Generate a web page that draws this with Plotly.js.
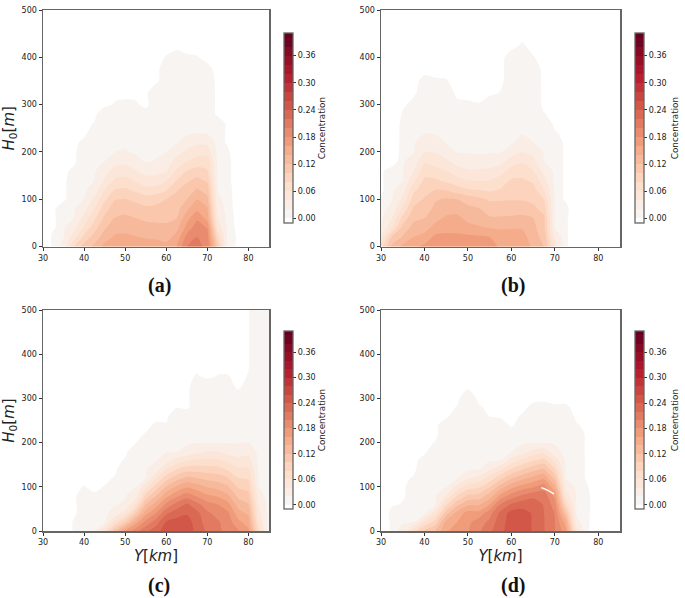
<!DOCTYPE html>
<html><head><meta charset="utf-8">
<script src="https://cdn.plot.ly/plotly-3.0.1.min.js"></script>
<style>html,body{margin:0;padding:0;background:#fff}</style></head>
<body><div id="chart" style="width:685px;height:598px"></div>
<script>
// Grid: distance Y [km] and height H0 [m]
const distanceKm=[30,32.5,35,37.5,40,42.5,45,47.5,50,52.5,55,57.5,60,62.5,65,67.5,70,72.5,75,77.5,80,82.5,85];
const heightM=[0,20,40,60,80,100,120,140,160,180,200,220,240,260,280,300,325,350,375,400,425,450,500];
const tickValues=[0,0.06,0.12,0.18,0.24,0.30,0.36];
const tickLabels=['0.00','0.06','0.12','0.18','0.24','0.30','0.36'];
const panelLabels=['(a)','(b)','(c)','(d)'];
// Concentration x1000; one list per Y, from H0=0 upward. A list that stops early is outside the plume above that point.
const concA=[
[-40,-40],[8,12],[28,19,18,17,15],[80,50,33,20,18,16,14,12,5],
[108,86,64,47,33,20,18,17,16,15,14,5],
[125,108,92,76,60,44,26,20,18,16,15,14,12,1],
[146,130,117,104,92,76,60,43,31,20,18,16,15,14,15],
[155,143,132,121,110,99,81,62,47,33,20,18,16,14,12,2],
[157,144,134,124,113,101,83,67,50,35,21,18,16,14,12,4],
[153,141,130,120,108,96,75,58,41,27,18,16,15,14,12,3],
[150,138,127,116,104,90,66,48,32,18,16,15,14,12,8],
[148,137,125,115,105,93,68,48,33,21,18,17,16,15,14,13,19],
[147,132,124,116,108,100,78,58,38,29,20,18,17,16,15,14,13,12,10,1],
[160,146,134,119,112,106,98,80,62,48,32,18,17,16,15,14,13,12,11,8],
[200,187,166,153,136,120,110,96,80,60,44,29,18,17,16,15,14,13,12,2],
[205,200,192,176,155,139,122,106,88,68,52,36,20,18,17,16,14,13,10,1],
[195,190,178,152,142,125,112,96,82,70,52,34,18,17,16,15,14,12,5],
[105,80,52,40,30,24,19,18,17,16,15,14,13,15],
[10,14,14,14,14,14,14,14,14,14,6],
[-4,-4,-8,-10,-15,-18,-21,-30,-30,-30,-30],
[],[],[]];
const concB=[
[70,40,19,17,16,2],
[125,102,60,40,24,19,17,16,15,-20,-34,-34,-34,-34,-34],
[145,122,107,87,65,45,31,20,19,18,17,16,15,14,3],
[155,140,127,115,103,90,75,55,40,29,19,18,17,16,15,8],
[165,146,133,120,110,102,92,84,72,56,40,30,19,18,17,16,15,5],
[172,165,146,134,125,118,100,83,67,52,38,28,19,18,17,16,15,2],
[174,165,153,143,132,122,98,75,60,44,30,19,18,17,16,15,14,1],
[174,164,153,145,132,120,88,68,47,33,19,18,17,16,15,5],
[172,164,147,134,125,112,82,60,43,26,19,18,17,16,15,3],
[170,163,142,131,121,105,80,58,43,24,19,18,17,16,15,1],
[165,160,139,123,108,98,76,60,45,26,19,18,17,16,15,13],
[158,148,138,122,110,98,82,68,52,33,19,18,17,16,15,14,1],
[155,149,138,124,108,99,90,82,68,50,30,18,17,16,15,14,13,12,11,8],
[155,149,138,124,112,98,91,83,70,58,40,25,19,18,17,16,15,14,13,12,2],
[135,128,125,121,105,95,88,76,60,47,33,20,19,18,17,16,15,14,10,1],
[120,114,108,105,92,80,60,47,33,20,19,18,17,16,1],
[55,35,20,19,18,17,17,16,16,15,15,14,2],
[10,10,10,10,15],
[-40,-40,-40,-40,-40],
[],[],[],[]];
const concC=[
[],[],[-20,-20],[3,3],
[12,13,14,14,14,1],
[20,15,14,14,3],
[60,20,17,15,14,1],
[115,65,27,19,18,16,2],
[165,100,50,22,19,18,17,15,2],
[192,150,100,60,28,19,18,17,16,15,-1],
[215,187,153,120,87,53,20,19,18,17,16,1],
[232,211,181,150,119,89,58,28,19,18,17,16,3],
[250,242,217,185,153,122,91,59,28,19,18,17,2],
[253,247,232,207,175,143,111,79,47,19,18,17,16,16,-1],
[255,250,238,224,190,157,124,91,58,25,18,17,17,18,-5],
[232,230,226,206,177,149,120,91,63,34,19,18,17,16,15,14,13,2],
[217,210,204,188,163,138,114,89,64,40,19,18,17,16,15,14,19],
[205,203,193,180,157,133,110,87,63,40,19,18,17,16,15,14,13,1],
[192,190,184,167,144,122,100,77,55,32,19,18,17,16,15,14,13,1],
[183,166,149,132,114,97,80,63,46,29,19,18,17,16,15,19],
[165,150,136,121,106,92,77,62,48,33,20,18,17,16,15,14,13,1,-1,-1,-1,-1,-1],
[75,57,47,40,30,20,18,17,16,15,14,14,14,14,14,14,14,14,14,14,14,14,14],
[5,10,12,12,12,12,12,12,12,12,12,12,12,12,12,12,12,12,12,12,12,12,12]];
const concD=[
[-40,-40,-40],[10,10,15],[28,18,16,3],[70,19,18,16,15,14,2],
[105,62,19,18,17,16,16,15,8],
[122,90,55,20,18,18,17,17,16,15,1],
[158,147,113,77,41,19,18,18,17,17,16,15,15],
[168,160,148,114,80,46,19,18,18,17,16,16,15,14,1],
[178,175,168,136,103,70,36,18,18,18,17,17,16,16,15,16,-3],
[197,190,168,137,107,76,46,19,18,17,16,15,14,14,3],
[215,205,192,160,129,98,67,36,18,18,17,16,15,-1],
[236,233,226,202,166,129,93,56,20,18,17,16,15],
[248,248,248,223,188,153,117,82,47,19,18,19],
[252,250,248,232,203,168,133,98,63,29,18,17,16,2],
[238,238,238,236,212,178,145,112,78,45,19,18,17,16,5],
[221,221,220,218,212,191,156,121,87,52,19,18,17,16,8],
[201,201,199,190,173,143,113,83,53,23,19,18,17,16,3],
[168,150,115,80,50,32,19,18,17,17,16,16,15,15,3],
[50,25,19,18,18,17,17,16,16,15,15,14,2],
[6,8,10,10,10,2],
[-32,-32,-32,-32,-32,-20],
[],[]];
// The small white sliver in panel (d)
const sliverY=[66.9,68.2,69.8];
const sliverH=[98,93,84];

const W=685,H=598,outside=-5;
const pad=c=>heightM.map((_,i)=>(i<c.length?c[i]:outside)/1000);
const t=v=>(v+0.01)/0.42;
const scale=[[0,'#ffffff'],[t(0),'#ffffff'],[t(0.01),'#f8f4f1'],[t(0.08),'#fddbc7'],[t(0.16),'#f4a582'],[t(0.24),'#d6604d'],[t(0.32),'#b2182b'],[t(0.40),'#67001f'],[1,'#67001f']];
const frames=[
 {l:43,r:269,t:10,b:246.5,cx:283.5,ct:33.3,cb:223,tx:322,data:concA},
 {l:381,r:620,t:10,b:246.5,cx:634.5,ct:33.3,cb:223,tx:675,data:concB},
 {l:43,r:269,t:310,b:531,cx:283.5,ct:331.5,cb:509,tx:322,data:concC},
 {l:381,r:620,t:310,b:531,cx:634.5,ct:331.5,cb:509,tx:675,data:concD}];
const tickFont={size:8,family:'DejaVu Sans',color:'#222'};
const traces=[],layout={width:W,height:H,margin:{l:0,r:0,t:0,b:0},paper_bgcolor:'#fff',plot_bgcolor:'#fff',showlegend:false,
 font:{family:'DejaVu Sans',size:8,color:'#222'},annotations:[]};
frames.forEach((f,i)=>{
 const s=i?String(i+1):'';
 traces.push({type:'contour',x:distanceKm,y:heightM,z:f.data.map(pad),transpose:true,xaxis:'x'+s,yaxis:'y'+s,
  autocontour:false,contours:{coloring:'fill',start:0,end:0.4,size:0.02,showlines:false},line:{width:0,smoothing:0.7},
  colorscale:scale,hoverinfo:'skip',
  colorbar:{x:f.cx/W,xanchor:'left',xpad:0,ypad:0,thickness:9,thicknessmode:'pixels',lenmode:'fraction',len:(f.cb-f.ct)/H,
   y:1-f.cb/H,yanchor:'bottom',outlinecolor:'#666',outlinewidth:1.3,tickmode:'array',tickvals:tickValues,ticktext:tickLabels,
   ticks:'outside',ticklen:3,tickwidth:1,tickcolor:'#333',tickfont:tickFont}});
 const ax={showgrid:false,zeroline:false,showline:true,mirror:true,linecolor:'#666',linewidth:1.5,ticks:'outside',ticklen:3,tickwidth:1,tickcolor:'#333',tickfont:tickFont};
 layout['xaxis'+s]=Object.assign({},ax,{domain:[f.l/W,f.r/W],range:[30,85],tickvals:[30,40,50,60,70,80],anchor:'y'+s,
   title:i>=2?{text:'<i>Y</i>[<i>km</i>]',font:{size:15,family:'DejaVu Sans',color:'#222'},standoff:2}:undefined});
 layout['yaxis'+s]=Object.assign({},ax,{domain:[1-f.b/H,1-f.t/H],range:[0,500],tickvals:[0,100,200,300,400,500],anchor:'x'+s,
   title:i%2==0?{text:'<i>H</i><sub>0</sub>[<i>m</i>]',font:{size:15,family:'DejaVu Sans',color:'#222'},standoff:4}:undefined});
 layout.annotations.push({xref:'paper',yref:'paper',x:f.tx/W,y:1-(f.ct+f.cb)/2/H,xanchor:'center',yanchor:'middle',text:'Concentration',textangle:-90,showarrow:false,font:{size:8.8,family:'DejaVu Sans',color:'#222'}});
 layout.annotations.push({xref:'paper',yref:'paper',x:(i%2?512.7:159)/W,y:1-(i<2?285:585)/H,xanchor:'center',yanchor:'middle',text:'<b>'+panelLabels[i]+'</b>',showarrow:false,font:{size:20,family:'Liberation Serif',color:'#111'}});
});
traces.push({type:'scatter',mode:'lines',x:sliverY,y:sliverH,xaxis:'x4',yaxis:'y4',line:{color:'#fff',width:1.3},hoverinfo:'skip',showlegend:false});
Plotly.newPlot('chart',traces,layout,{displayModeBar:false,staticPlot:true});
</script></body></html>
